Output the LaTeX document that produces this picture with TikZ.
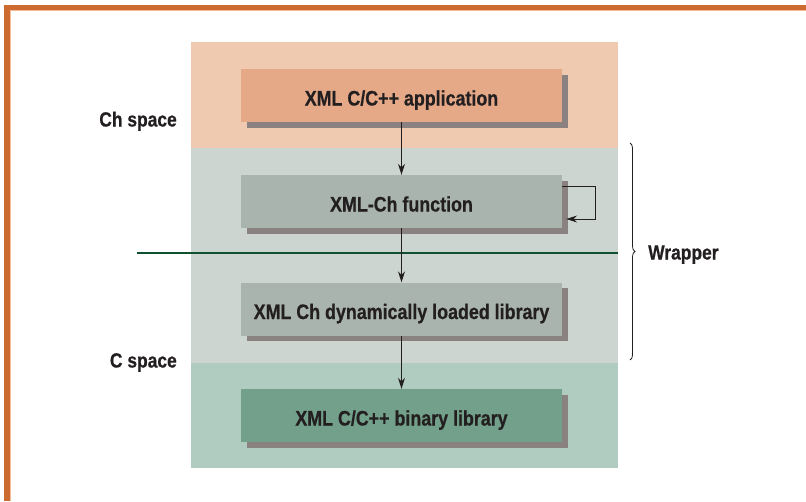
\documentclass[tikz,border=0pt]{standalone}
\usepackage{fontspec}
\setmainfont{Liberation Sans}[FakeStretch=0.85, BoldFeatures={FakeBold=0.6}]
\usetikzlibrary{arrows.meta,decorations.pathreplacing}
\definecolor{frameor}{HTML}{CC6A30}
\definecolor{framelt}{HTML}{F2BE9A}
\definecolor{bandch}{HTML}{F0CAB0}
\definecolor{bandwr}{HTML}{CDD5D0}
\definecolor{bandc}{HTML}{B0CCC0}
\definecolor{boxapp}{HTML}{E5A988}
\definecolor{boxgray}{HTML}{A9B4AE}
\definecolor{boxbin}{HTML}{72A08A}
\definecolor{shadowc}{HTML}{8A8280}
\definecolor{sepline}{HTML}{0E5030}
\definecolor{txt}{HTML}{231F20}
\tikzset{
  layerbox/.style={minimum width=321pt, minimum height=53pt, inner sep=0pt,
    text height=20pt, text depth=0pt,
    font=\fontsize{21}{24}\selectfont\bfseries, text=txt},
  lbl/.style={font=\fontsize{20.5}{24}\selectfont\bfseries, text=txt, inner sep=0pt},
  conn/.style={draw=txt, line width=0.9pt, -{Stealth[length=11pt,width=7pt]}},
}
\begin{document}
\begin{tikzpicture}[x=1pt,y=-1pt]
\useasboundingbox (0,0) rectangle (806,501);
% frame
\fill[frameor] (4,5) rectangle (806,10);
\fill[frameor] (4,5) rectangle (10,501);
\fill[framelt] (10,10) rectangle (806,11);
\fill[framelt] (10,10) rectangle (11,501);
% bands
\fill[bandch] (191,42) rectangle (618,148);
\fill[bandwr] (191,148) rectangle (618,363);
\fill[bandc] (191,363) rectangle (618,468);
% separator line
\draw[sepline, line width=2.5pt] (137,253) -- (618,253);
% shadows
\foreach \y in {69,175,282,389}{
  \fill[shadowc] (247,\y+6) rectangle (568,\y+59);
}
% boxes
\node[layerbox, fill=boxapp] (app) at (401.5,95.5) {XML C/C++ application};
\node[layerbox, fill=boxgray] (fun) at (401.5,201.5) {XML-Ch function};
\node[layerbox, fill=boxgray] (dll) at (401.5,309) {XML Ch dynamically loaded library};
\node[layerbox, fill=boxbin] (bin) at (401.5,415.5) {XML C/C++ binary library};
% connectors
\draw[conn] (app.south) -- (fun.north);
\draw[conn] (fun.south) -- (dll.north);
\draw[conn] (dll.south) -- (bin.north);
\coordinate (la) at (595,186);
\coordinate (lb) at (595,219);
\draw[conn] ([yshift=15.5pt]fun.east) -- (la) -- (lb) -- ([xshift=4pt,yshift=-17.5pt]fun.east);
% labels
\node[lbl, anchor=base east] (chs) at (177,126.5) {Ch space};
\node[lbl, anchor=base east] (cs) at (177,367.5) {C space};
% brace
\coordinate (bt) at (630,143);
\coordinate (bb) at (630,360);
\draw[txt, line width=0.8pt, decorate, decoration={brace, amplitude=5pt}] (bt) -- (bb);
\node[lbl, anchor=base west] (wr) at (648,259.5) {Wrapper};
\end{tikzpicture}
\end{document}
